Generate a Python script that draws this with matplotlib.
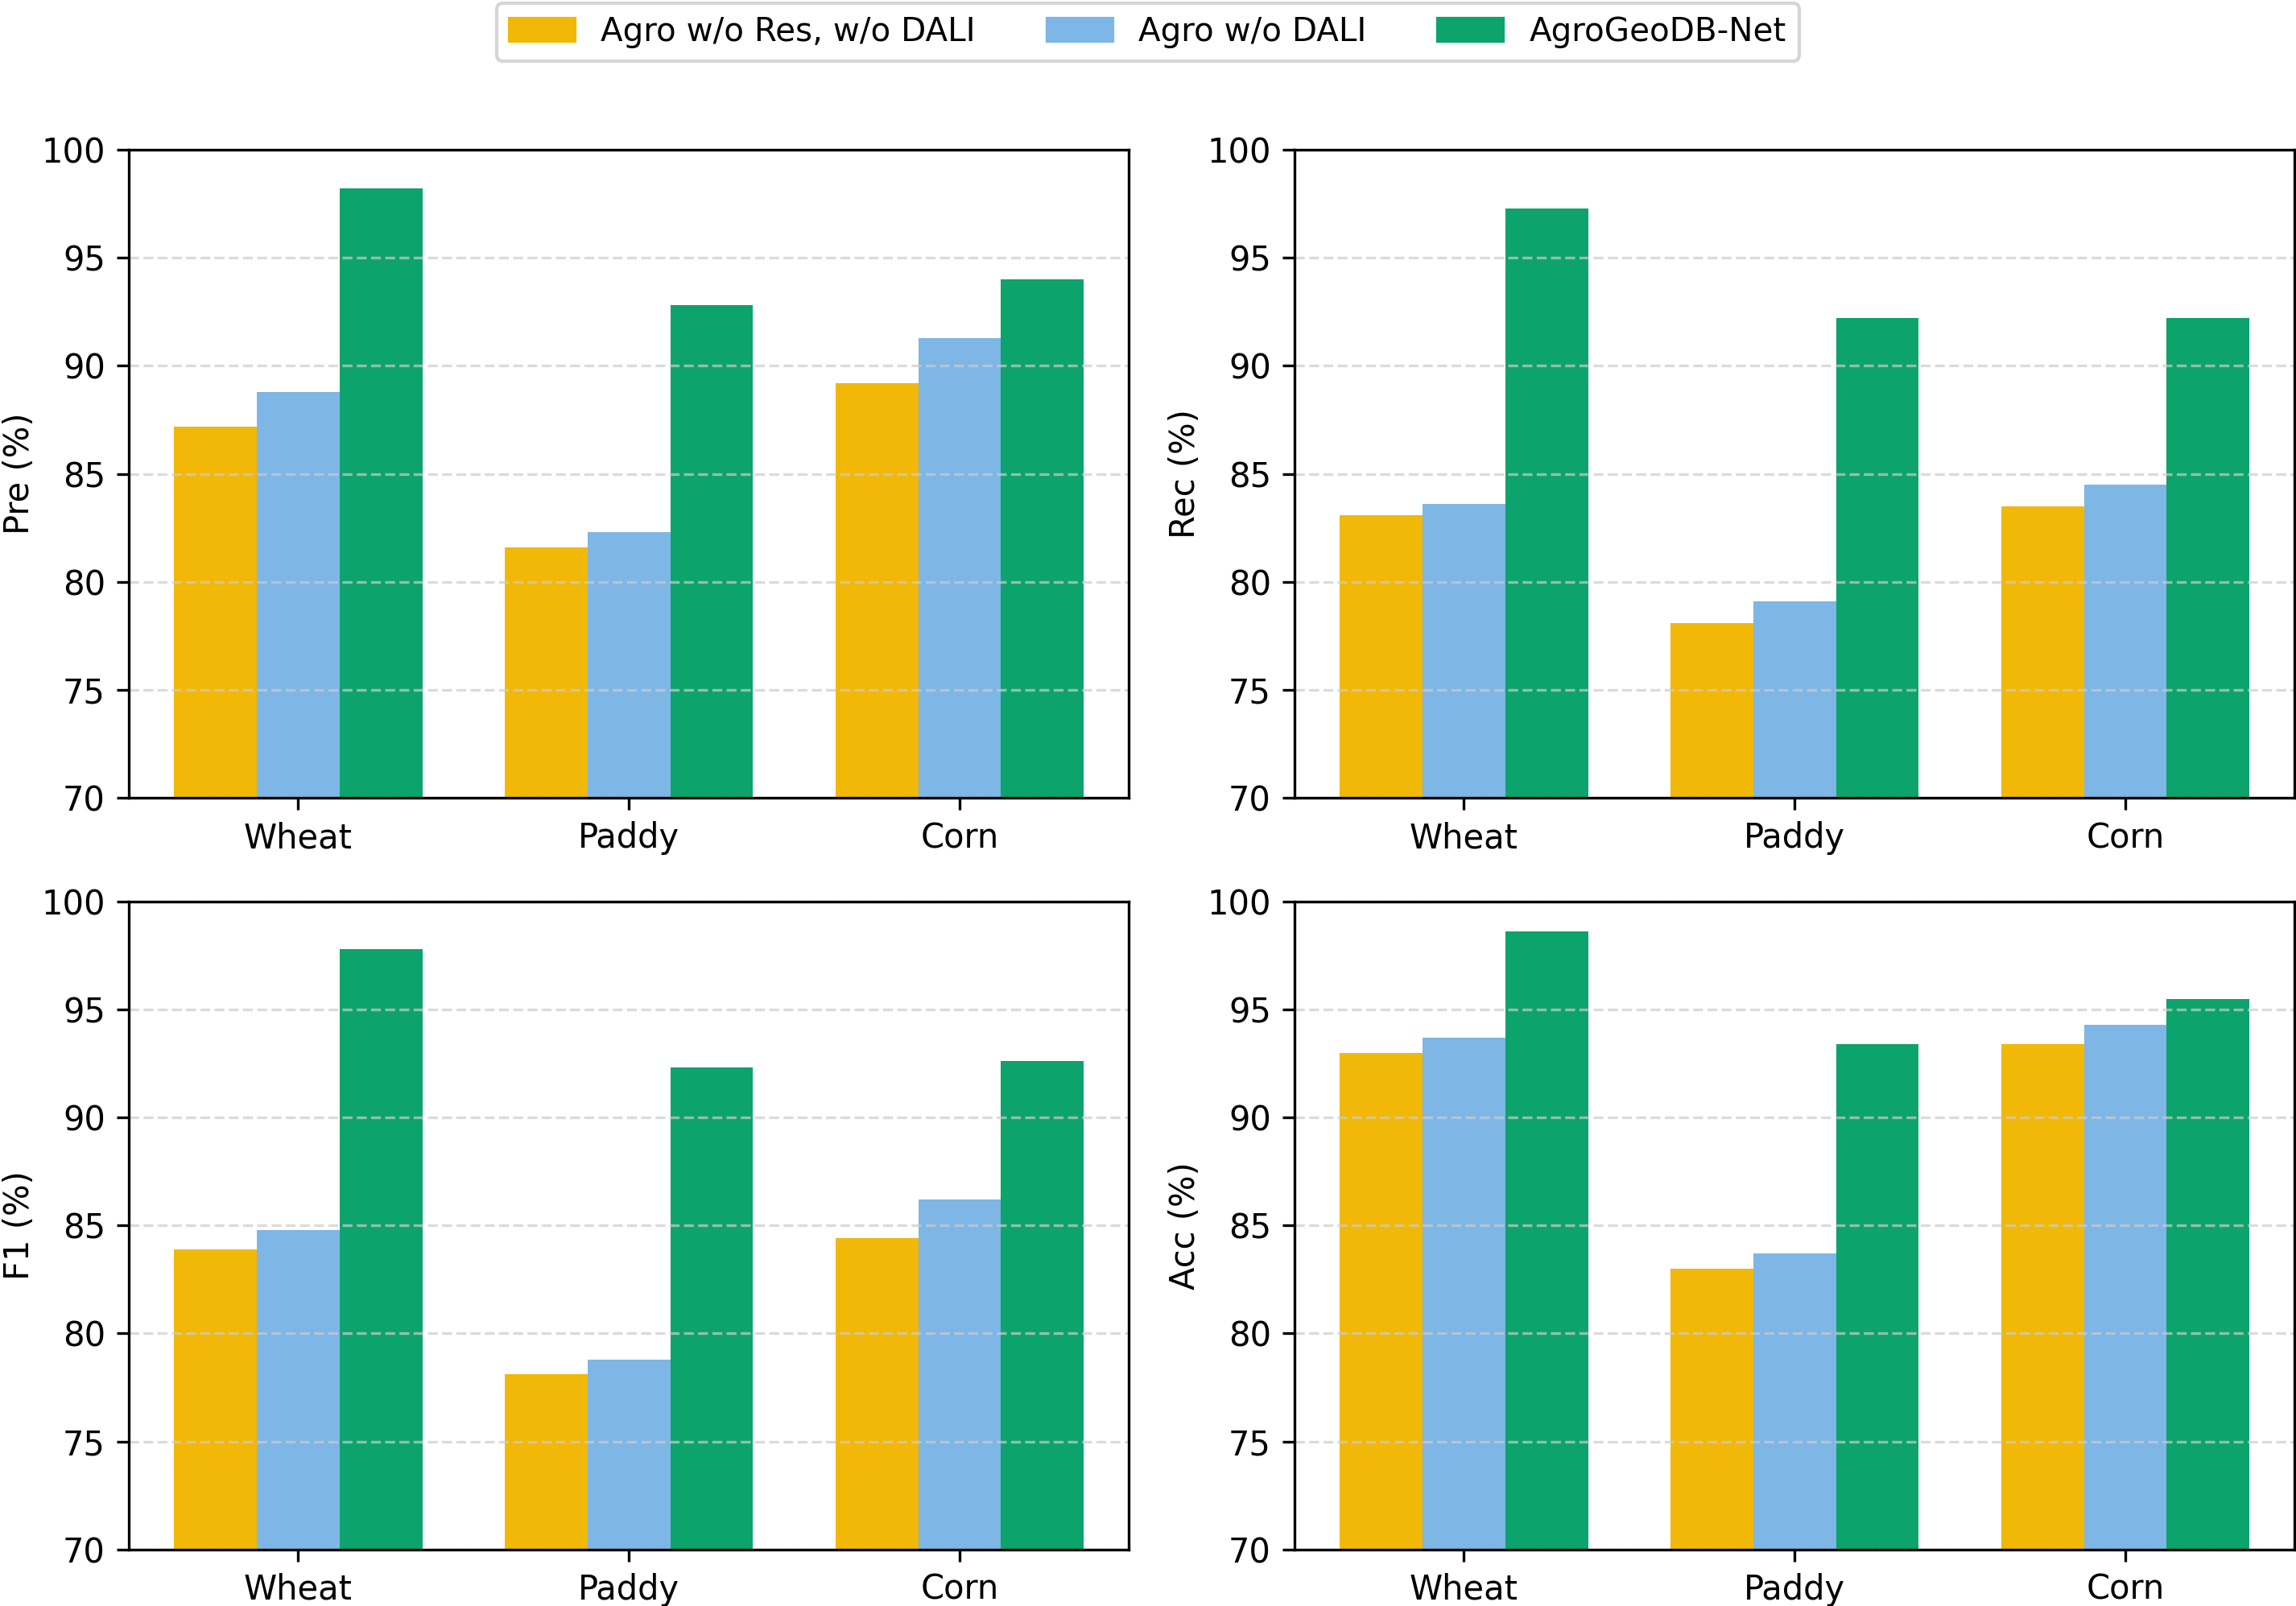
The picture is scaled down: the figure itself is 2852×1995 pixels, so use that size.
import numpy as np
import matplotlib
matplotlib.use("Agg")
import matplotlib.pyplot as plt
from matplotlib.patches import Patch

crops = ["Wheat", "Paddy", "Corn"]
methods = ["Agro w/o Res, w/o DALI", "Agro w/o DALI", "AgroGeoDB-Net"]
colors = ["#F1B807", "#7EB6E6", "#0CA36C"]

# values per metric: rows = methods, cols = crops
pre = [[87.2, 81.6, 89.2],
       [88.8, 82.3, 91.3],
       [98.2, 92.8, 94.0]]
rec = [[83.1, 78.1, 83.5],
       [83.6, 79.1, 84.5],
       [97.3, 92.2, 92.2]]
f1 = [[83.9, 78.1, 84.4],
      [84.8, 78.8, 86.2],
      [97.8, 92.3, 92.6]]
acc = [[93.0, 83.0, 93.4],
       [93.7, 83.7, 94.3],
       [98.6, 93.4, 95.5]]

metrics = [("Pre (%)", pre), ("Rec (%)", rec), ("F1 (%)", f1), ("Acc (%)", acc)]

plt.rcParams["font.size"] = 10

fig = plt.figure(figsize=(9.507, 6.65), dpi=300)
lefts = [0.0561, 0.5638]
bottoms = [0.5032, 0.0352]
w = 0.4356
h = 0.4035

x = np.arange(len(crops))
bw = 0.25

for i, (label, vals) in enumerate(metrics):
    ax = fig.add_axes([lefts[i % 2], bottoms[i // 2], w, h])
    for j, m in enumerate(methods):
        ax.bar(x + (j - 1) * bw, vals[j], bw, color=colors[j], label=m)
    ax.set_ylim(70, 100)
    ax.set_xticks(x)
    ax.set_xticklabels(crops)
    ax.set_ylabel(label, labelpad=1.5)
    ax.yaxis.grid(True, linestyle="--", color="#cccccc", alpha=0.7, linewidth=0.8)

handles = [Patch(color=c, label=m) for c, m in zip(colors, methods)]
fig.legend(handles=handles, loc="upper center", bbox_to_anchor=(0.5, 1.0), ncol=3,
           frameon=True, handlelength=2, columnspacing=2.2, borderaxespad=0.1,
           fontsize=9.7)

fig.savefig("out.png", dpi=300)
